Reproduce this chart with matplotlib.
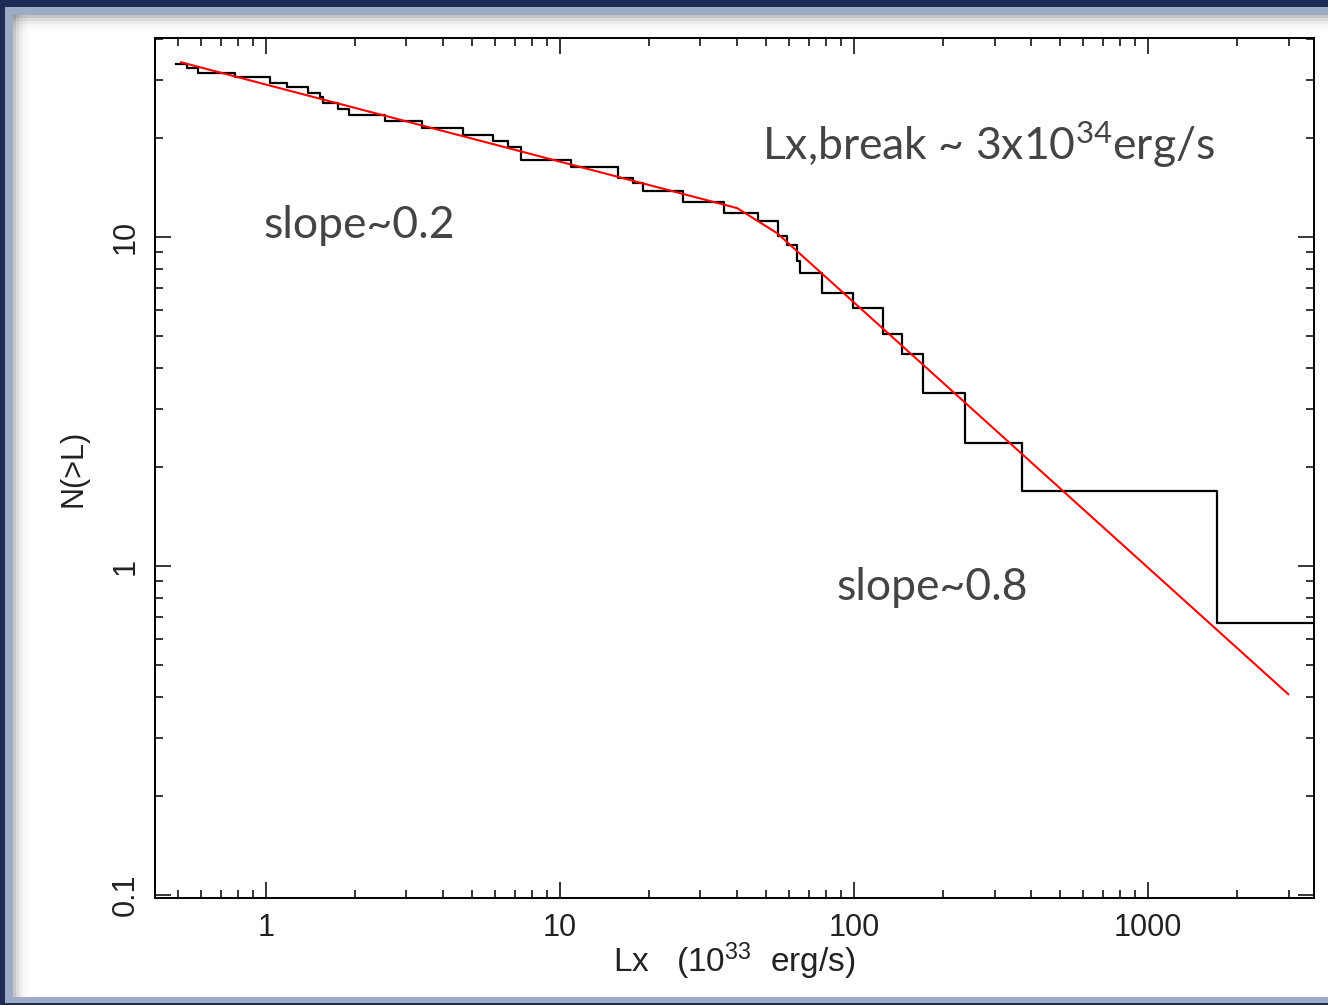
import matplotlib
matplotlib.use("Agg")
import matplotlib.pyplot as plt
import matplotlib.ticker as mticker
from matplotlib.patches import Rectangle

# cumulative luminosity function
lx_steps = [0.494, 0.537, 0.586, 0.784, 1.032, 1.176, 1.393, 1.526, 1.567, 1.753,
            1.920, 2.540, 3.385, 4.69, 5.93, 6.67, 7.35, 10.87, 15.7, 17.7,
            19.1, 26.2, 36.1, 47.1, 55.1, 59.1, 63.9, 65.5, 77.8, 99.2,
            125.5, 145.7, 171.7, 238.6, 372.7, 1718]
n_levels = [33.7, 32.6, 31.6, 30.6, 29.5, 28.5, 27.5, 26.6, 25.6, 24.5,
            23.5, 22.6, 21.5, 20.5, 19.6, 18.8, 17.2, 16.3, 15.1, 14.6,
            13.8, 12.8, 11.8, 11.2, 10.1, 9.46, 8.45, 7.77, 6.76, 6.08,
            5.07, 4.41, 3.36, 2.37, 1.69, 0.671]

# broken power-law fit
fit_lx = [0.514, 40.0, 54.7, 2993]
fit_n = [34.0, 12.25, 10.28, 0.408]

x_ticks = [1, 10, 100, 1000]
y_ticks = [0.1, 1, 10]
xlim = (0.419, 3660)
ylim = (0.098, 40.3)

W, H = 1328, 1005
fig = plt.figure(figsize=(W / 100, H / 100), dpi=100)
fig.patch.set_facecolor('#1d2c54')

# slide frame: light band, white panel, soft shadow
fig.patches.append(Rectangle((5 / W, 2 / H), 1, 1 - 9 / H, transform=fig.transFigure,
                             facecolor='#9dabc7', edgecolor='none', zorder=-3))
fig.patches.append(Rectangle((13 / W, 8 / H), 1, 1 - 23 / H, transform=fig.transFigure,
                             facecolor='white', edgecolor='none', zorder=-2))
for i, a in enumerate([0.22, 0.14, 0.08, 0.04, 0.02]):
    fig.patches.append(Rectangle((13 / W, (H - 15 - 3 * (i + 1)) / H), 1, 3 / H,
                                 transform=fig.transFigure, facecolor='black',
                                 alpha=a, edgecolor='none', zorder=-1))
    fig.patches.append(Rectangle(((13 + 3 * i) / W, 8 / H), 3 / W, 1 - 23 / H,
                                 transform=fig.transFigure, facecolor='black',
                                 alpha=a, edgecolor='none', zorder=-1))

ax = fig.add_axes([155 / W, 1 - 898 / H, (1314 - 155) / W, (898 - 38) / H])
ax.set_facecolor('none')

ax.step(lx_steps + [xlim[1]], n_levels + [n_levels[-1]], where='post',
        color='black', lw=1.6)
ax.plot(fit_lx, fit_n, color='#ff0000', lw=1.5)

ax.set_xscale('log')
ax.set_yscale('log')
ax.set_xlim(*xlim)
ax.set_ylim(*ylim)

tick_font = 'Liberation Sans'
ax.xaxis.set_major_locator(mticker.FixedLocator(x_ticks))
ax.yaxis.set_major_locator(mticker.FixedLocator(y_ticks))
ax.xaxis.set_minor_locator(mticker.LogLocator(base=10, subs=range(2, 10), numticks=20))
ax.yaxis.set_minor_locator(mticker.LogLocator(base=10, subs=range(2, 10), numticks=20))
fmt = mticker.FuncFormatter(lambda v, p: f"{v:g}")
ax.xaxis.set_major_formatter(fmt)
ax.yaxis.set_major_formatter(fmt)
ax.xaxis.set_minor_formatter(mticker.NullFormatter())
ax.yaxis.set_minor_formatter(mticker.NullFormatter())

ax.tick_params(which='both', direction='in', top=True, right=True, width=1.1,
               color='black')
ax.tick_params(which='major', length=11.5)
ax.tick_params(which='minor', length=6)
ax.tick_params(axis='x', which='major', pad=11, labelsize=22, labelcolor='#222222')
ax.tick_params(axis='y', which='major', pad=10, labelsize=22, labelcolor='#222222')
for lab in ax.get_xticklabels() + ax.get_yticklabels():
    lab.set_fontfamily(tick_font)
for lab in ax.get_yticklabels():
    lab.set_rotation(90)
    lab.set_va('center')
for s in ax.spines.values():
    s.set_linewidth(1.4)

ax.set_xlabel(r"Lx   (10$\mathregular{^{33}}$  erg/s)", fontsize=24,
              fontfamily=tick_font, color='#222222', va='center')
ax.xaxis.set_label_coords(0.5, -0.074)
ax.set_ylabel("N(>L)", fontsize=22, fontfamily=tick_font, color='#222222',
              labelpad=16)

note_kw = dict(transform=ax.transAxes, fontsize=32, color='#444444',
               fontfamily='Lato', va='baseline', ha='left')
ax.text(0.0932, 0.7674, "slope~0.2", **note_kw)
ax.text(0.5237, 0.858, r"Lx,break ~ 3x10$\mathregular{^{34}}$erg/s", **note_kw)
ax.text(0.5876, 0.3465, "slope~0.8", **note_kw)

fig.savefig('out.png', dpi=100, facecolor=fig.get_facecolor())
